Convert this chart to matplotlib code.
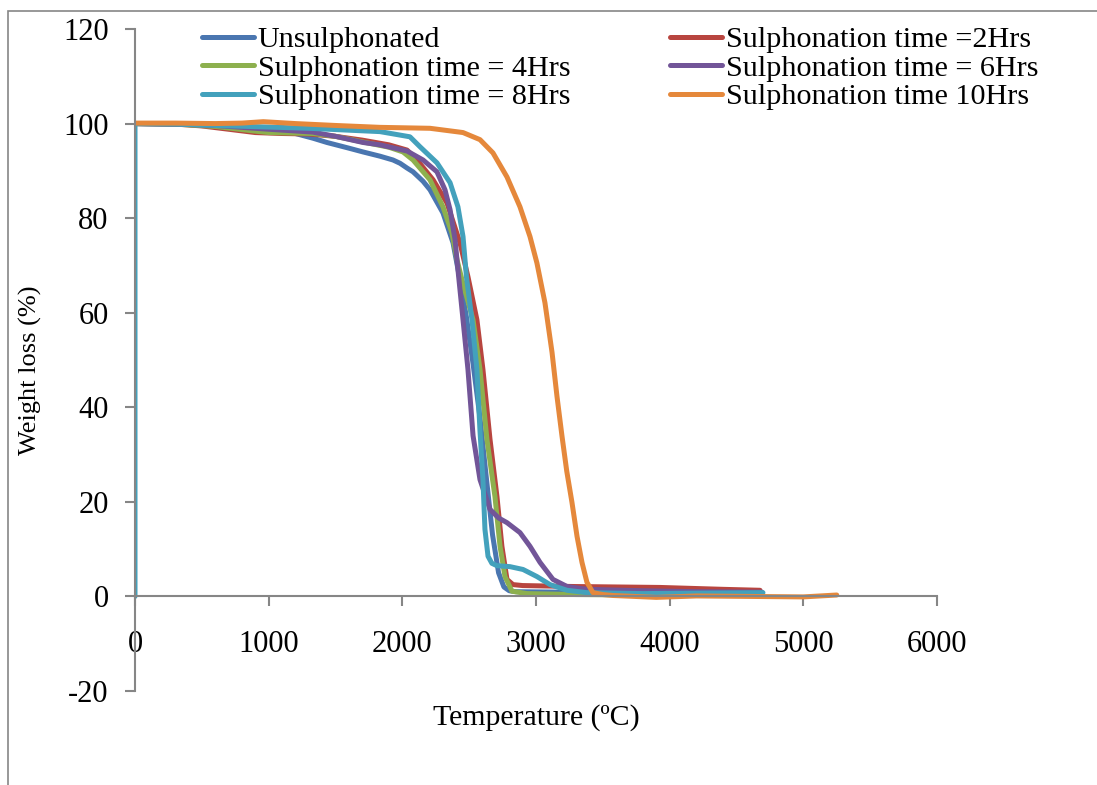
import numpy as np
import matplotlib
matplotlib.use('Agg')
import matplotlib.pyplot as plt
from matplotlib.patches import Rectangle

plt.rcParams['font.family'] = ['Liberation Serif', 'DejaVu Serif']
plt.rcParams['axes.unicode_minus'] = False

# ---- data ----
t_unsul = [0, 300, 600, 900, 1100, 1200, 1332, 1436, 1600, 1706, 1833, 1930, 1983, 2035, 2080,
           2155, 2207, 2304, 2379, 2431, 2480, 2530, 2580, 2625, 2675, 2720, 2760, 2800, 2850,
           3200, 3600, 4000, 4400, 4690]
w_unsul = [100, 99.9, 99.6, 98.9, 98.4, 97.9, 96.9, 96.0, 94.8, 94.0, 93.1, 92.3, 91.6, 90.6, 89.8,
           87.8, 86, 81.1, 74.8, 67, 59, 49, 38, 26, 13, 5, 2, 1.2, 1.0,
           0.9, 0.8, 0.8, 0.7, 0.7]

t_2h = [0, 300, 500, 700, 900, 1100, 1300, 1500, 1700, 1900, 2035, 2110, 2230, 2334, 2431,
        2491, 2558, 2603, 2656, 2708, 2745, 2783, 2828, 2900, 3277, 3928, 4400, 4676]
w_2h = [100, 99.9, 99.5, 98.8, 98.1, 97.9, 97.8, 97.3, 96.5, 95.5, 94.4, 92.3, 88.1, 83.2, 74.8,
        67.6, 58.5, 48, 33.2, 21.1, 10.6, 3.6, 2.5, 2.3, 2.1, 1.9, 1.5, 1.3]

t_4h = [0, 300, 600, 900, 1000, 1330, 1500, 1706, 1900, 2005, 2080, 2207, 2304, 2371, 2409,
        2446, 2529, 2581, 2633, 2693, 2731, 2768, 2820, 2933, 3300, 3800, 4300, 4690]
w_4h = [100, 99.9, 99.4, 98.4, 98.1, 97.9, 97.3, 96.1, 95, 94, 92.3, 88.1, 82.4, 76.9, 71.2,
        67, 58.5, 48, 33.2, 21.1, 10.6, 4.2, 1.1, 0.6, 0.4, 0.3, 0.3, 0.3]

t_6h = [0, 300, 600, 1000, 1330, 1500, 1706, 1833, 2035, 2155, 2259, 2319, 2357, 2394, 2420,
        2454, 2491, 2529, 2581, 2656, 2720, 2783, 2880, 2955, 3030, 3127, 3232, 3381, 3800,
        4200, 4690]
w_6h = [100, 99.9, 99.6, 98.8, 98.2, 97.3, 96, 95.5, 94.2, 92.3, 89.8, 86, 81.8, 75.5, 68,
        58.5, 48, 34, 24.7, 18.4, 16.6, 15.6, 13.5, 10.6, 7.2, 3.6, 2.1, 1.5, 1.2,
        1.0, 0.9]

t_8h = [0, 0, 300, 600, 960, 1300, 1600, 1833, 2057, 2132, 2259, 2357, 2416, 2454, 2480, 2521,
        2558, 2581, 2603, 2618, 2641, 2670, 2708, 2805, 2903, 3007, 3105, 3232, 3381, 3800,
        4200, 4698]
w_8h = [0, 100, 99.9, 99.6, 99.3, 99, 98.6, 98.3, 97.2, 95.1, 91.7, 87.5, 82.4, 76.1, 67.5, 58.5,
        48, 35, 24.7, 14.2, 8.5, 7, 6.5, 6.3, 5.7, 4.2, 2.5, 1.3, 0.8, 0.6,
        0.7, 0.8]

t_10h = [0, 300, 600, 800, 960, 1200, 1500, 1833, 2207, 2454, 2581, 2678, 2783, 2880, 2955,
         3007, 3067, 3120, 3157, 3194, 3230, 3269, 3307, 3344, 3381, 3426, 3500, 3576, 3900,
         4200, 4600, 5000, 5250]
w_10h = [100.1, 100.1, 100, 100.1, 100.4, 100, 99.6, 99.2, 99.0, 98.1, 96.6, 93.8, 88.7, 82.4, 76.1,
         70.5, 62.1, 51.6, 42.3, 34, 26.5, 19.9, 12.7, 7.2, 3.0, 0.8, 0.4, 0.2, -0.2,
         0.1, 0, -0.1, 0.3]

series = [
    ('Unsulphonated', t_unsul, w_unsul, '#4A76B0'),
    ('Sulphonation time =2Hrs', t_2h, w_2h, '#B8453F'),
    ('Sulphonation time = 4Hrs', t_4h, w_4h, '#8DB04E'),
    ('Sulphonation time = 6Hrs', t_6h, w_6h, '#725598'),
    ('Sulphonation time = 8Hrs', t_8h, w_8h, '#43A1BC'),
    ('Sulphonation time 10Hrs', t_10h, w_10h, '#E5883B'),
]
legend_order = [0, 2, 4, 1, 3, 5]

xticks = [0, 1000, 2000, 3000, 4000, 5000, 6000]
yticks = [-20, 0, 20, 40, 60, 80, 100, 120]

fig = plt.figure(figsize=(10.97, 7.85), dpi=100)
ax = fig.add_axes([135/1097, 1-691/785, (937-135)/1097, (691-29)/785])

lines = []
for name, t, w, c in series:
    ln, = ax.plot(t, w, color=c, lw=3.6, label=name,
                  solid_joinstyle='round', solid_capstyle='round')
    lines.append(ln)

ax.set_xlim(0, 6000)
ax.set_ylim(-20, 120)
ax.set_xticks(xticks)
ax.set_yticks(yticks)
ax.spines['top'].set_visible(False)
ax.spines['right'].set_visible(False)
ax.spines['bottom'].set_position(('data', 0))
for s in ('left', 'bottom'):
    ax.spines[s].set_color('#868686')
    ax.spines[s].set_linewidth(1.5)
ax.tick_params(axis='both', colors='#868686', length=7, width=1.5, labelsize=22,
               labelcolor='black')
ax.tick_params(axis='x', pad=17)
ax.tick_params(axis='y', pad=12)

ax.text(0.5, -0.04, 'Temperature (ºC)', transform=ax.transAxes, ha='center', va='center',
        fontsize=21.5)
fig.text(30/1097, 1-370/785, 'Weight loss (%)', rotation=90, ha='center', va='center',
         fontsize=19)

ax.legend([lines[i] for i in legend_order], [series[i][0] for i in legend_order],
          ncol=2, frameon=False, fontsize=21.7, loc='upper left',
          bbox_to_anchor=(202/1097, 1-26/785), bbox_transform=fig.transFigure,
          borderpad=0, borderaxespad=0, handlelength=1.72, handletextpad=0.13,
          labelspacing=0.05, columnspacing=3.3)

fig.patches.append(Rectangle((8/1097, -0.1), 1.2, 1.1 - 11/785, transform=fig.transFigure,
                             fill=False, edgecolor='#868686', lw=1.2))

fig.savefig('out.png', dpi=100)
